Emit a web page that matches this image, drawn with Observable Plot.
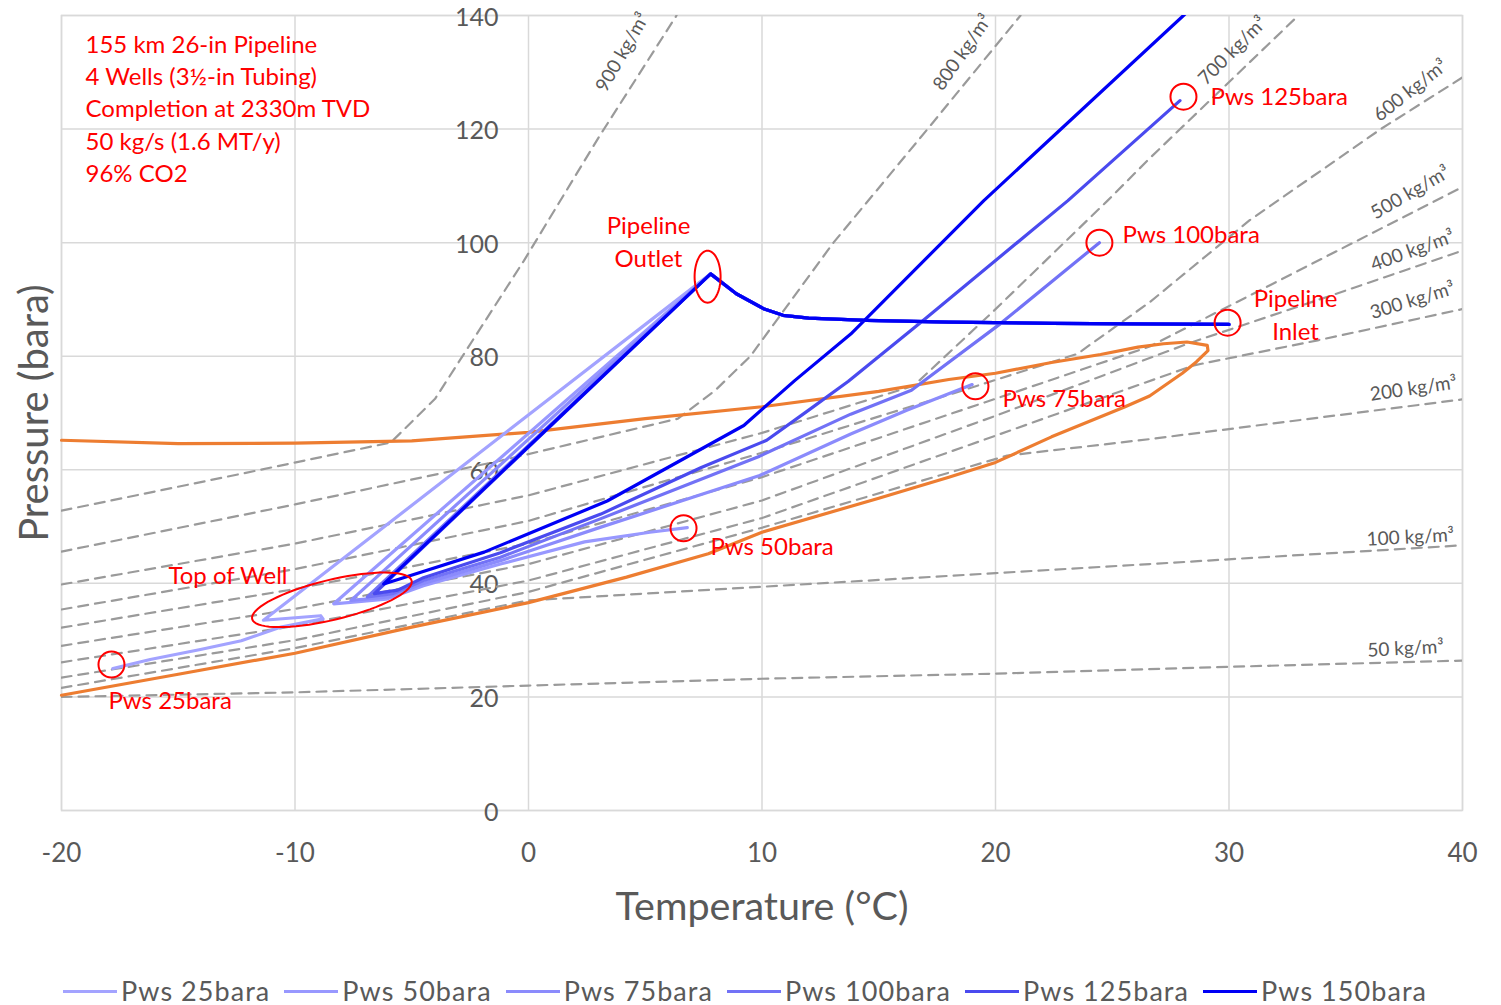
<!DOCTYPE html>
<html>
<head>
<meta charset="utf-8">
<script src="https://cdn.jsdelivr.net/npm/d3@7"></script>
<script src="https://cdn.jsdelivr.net/npm/@observablehq/plot@0.6"></script>
<style>
  body { margin: 0; background: #fff; font-family: Lato, sans-serif; }
  #chart svg { display: block; }
  #legend { display: flex; align-items: center; margin-left: 63px; margin-top: 26px; height: 30px; }
  .item { display: flex; align-items: center; margin-right: 14px; }
  .sw { width: 54px; height: 3px; margin-right: 4px; }
  .lt { font-size: 27px; letter-spacing: 1.05px; color: #595959; line-height: 30px; }
</style>
</head>
<body>
<div id="chart"></div>
<div id="legend"></div>
<script>
// ---------- data ----------
const xTicks = [-20, -10, 0, 10, 20, 30, 40];
const yTicks = [0, 20, 40, 60, 80, 100, 120, 140];

const seriesNames = ["Pws 25bara", "Pws 50bara", "Pws 75bara", "Pws 100bara", "Pws 125bara", "Pws 150bara"];
const seriesColors = ["#a3a3ff", "#9898ff", "#8b8bfc", "#7272f6", "#4a4aef", "#0000f5"];

// pipeline: inlet -> outlet  [T (°C), P (bara)]
const pipeline = [[30.0,85.6],[26,85.7],[22.4,85.8],[18,86.0],[14.5,86.3],[12,86.7],[10.9,87.2],[10.1,88.3],[8.9,91.0],[7.8,94.5]];

// top of well -> bottom hole, per series
const well25  = [[-11.35,33.5],[-8.9,34.3],[-8.8,33.75],[-10.6,32.3],[-12.3,29.9],[-14.05,28.35],[-16.2,26.6],[-17.8,25.0]];
const well50  = [[-8.34,36.4],[-6.1,37.2],[-4.5,39.6],[-1.2,43.4],[2.4,47.3],[5.2,49.0],[6.8,49.8]];
const well75  = [[-7.6,37.0],[-6.0,37.6],[-4.5,40.0],[-1.2,44.0],[3.1,49.9],[9.9,59.0],[13.8,66.3],[16.2,70.5],[19.0,75.0]];
const well100 = [[-6.9,37.6],[-5.8,38.2],[-4.5,40.5],[-1.2,44.6],[3.1,51.4],[9.9,62.4],[13.8,69.8],[16.4,74.0],[20.2,85.7],[24.45,100]];
const well125 = [[-6.6,38.2],[-5.6,38.8],[-4.5,41.0],[-1.2,45.4],[3.1,52.2],[7.4,60.4],[10.2,65.2],[12.0,70.5],[13.7,75.6],[16.9,86.3],[23.1,107.4],[27.9,125]];
const well150 = [[-6.2,39.9],[-5.05,41.4],[-1.9,45.5],[3.37,54.5],[9.22,67.8],[11.4,75.7],[13.8,83.9],[19.5,107.4],[28.05,140],[30.7,150]];

// phase envelope (bubble side then dew side)
const envelope = [[-20,65.2],[-15,64.6],[-10,64.7],[-5,65.1],[0,66.6],[5,69.0],[10,71.1],[15,73.8],[18,75.9],[20,77.0],[22.4,78.9],[24.5,80.3],[26.1,81.6],[27.2,82.2],[28.2,82.5],[29.07,81.9],[29.1,81.0],
  [28.6,79.0],[28.0,77.0],[26.6,73.0],[25.5,71.0],[22.4,65.8],[20,61.3],[18,58.7],[15,55.0],[10,49.0],[7.7,45.2],[4.2,41.1],[0,36.6],[-5,32.3],[-10,27.7],[-15,24.0],[-20,20.3]];

// isochores (density lines)
const isoNames = ["900 kg/m³","800 kg/m³","700 kg/m³","600 kg/m³","500 kg/m³","400 kg/m³","300 kg/m³","200 kg/m³","100 kg/m³","50 kg/m³"];
const iso900 = [[-20,52.8],[-12.3,59.3],[-5.9,64.8],[-4.0,72.5],[-0.2,96.8],[3.0,118.5],[6.34,140]];
const iso800 = [[-20,45.6],[-10,53.9],[-1.2,61.6],[6.4,69.0],[8.0,74.0],[9.5,80],[13.06,100],[17.09,120],[21.07,140]];
const iso700 = [[-20,39.8],[-10,47.0],[0,55.5],[10,66.5],[16.5,74.8],[19.93,88.0],[24.8,107.4],[26.64,115],[32.97,140]];
const iso600 = [[-20,35.4],[-10,42.5],[0,51.0],[10,63.0],[18.07,73.3],[23.5,80.4],[26.6,89.5],[30.9,104],[36.5,120],[40,129.1]];
const iso500 = [[-20,32.2],[-10,39.0],[0,47.0],[10,58.7],[20,72.5],[26.6,81.7],[40,109.8]];
const iso400 = [[-20,29.0],[-10,35.5],[0,43.4],[10,54.6],[20,69.5],[28.3,82.3],[34.6,91.0],[40,98.6]];
const iso300 = [[-20,26.1],[-10,32.5],[0,40.5],[10,51.5],[20,66.0],[28.5,78.4],[33.8,82.8],[40,88.3]];
const iso200 = [[-20,23.4],[-10,30.0],[0,38.5],[10,49.8],[20.5,62.5],[26.6,65.4],[40,72.4]];
const iso100 = [[-20,21.6],[-10,28.6],[0,37.0],[10,39.4],[20,41.8],[26.6,43.4],[40,46.7]];
const iso50  = [[-20,20.0],[-10,20.8],[0,22.0],[10,23.2],[20,24.1],[30,25.3],[40,26.4]];
const isoLines = [iso900, iso800, iso700, iso600, iso500, iso400, iso300, iso200, iso100, iso50];
const isoLabelT = [4.03, 18.59, 30.15, 37.77, 37.77, 37.86, 37.86, 37.9, 37.77, 37.56];
const isoLabelP = [133.5, 133.5, 133.8, 126.8, 108.8, 98.6, 89.8, 74.3, 48.1, 28.5];
const isoLabelAngle = [-60, -55, -45, -38, -30, -20, -17, -8, -3, -3];

// annotations
const notes = ["155 km 26-in Pipeline", "4 Wells (3½-in Tubing)", "Completion at 2330m TVD", "50 kg/s (1.6 MT/y)", "96% CO2"];
const markerNames = ["Pws 125bara", "Pws 100bara", "Pws 75bara", "Pws 50bara", "Pws 25bara", "Pipeline Inlet"];
const markerT = [28.05, 24.45, 19.14, 6.64, -17.86, 29.94];
const markerP = [125.7, 100.0, 74.7, 49.7, 25.7, 85.9];
const labelText = ["Pws 125bara", "Pws 100bara", "Pws 75bara", "Pws 50bara", "Pws 25bara", "Top of Well"];
const labelT = [29.21, 25.44, 20.3, 7.79, -17.99, -15.42];
const labelP = [125.55, 101.25, 72.4, 46.3, 19.2, 41.2];
const blockText = ["Pipeline\nOutlet", "Pipeline\nInlet"];
const blockT = [5.14, 32.85];
const blockP = [100.5, 87.6];
const outletCentre = [[7.67, 94.0]];
const topWellCentre = [[-8.42, 37.1]];

// ---------- tables ----------
const seriesRows = seriesNames.flatMap((s, i) =>
  [...pipeline, ...[well25, well50, well75, well100, well125, well150][i]].map(([T, P]) => ({series: s, T, P})));
const isoRows = isoNames.flatMap((n, i) => isoLines[i].map(([T, P]) => ({iso: n, T, P})));
const envRows = envelope.map(([T, P]) => ({T, P}));
const isoLabels = isoNames.map((n, i) => ({text: n, T: isoLabelT[i], P: isoLabelP[i], a: isoLabelAngle[i]}));
const markers = markerNames.map((n, i) => ({n, T: markerT[i], P: markerP[i]}));
const labels = labelText.map((t, i) => ({t, T: labelT[i], P: labelP[i]}));
const blocks = blockText.map((t, i) => ({t, T: blockT[i], P: blockP[i]}));

// ellipse symbols (pixel space)
function ellipseSymbol(a, b, angleDeg) {
  const phi = angleDeg * Math.PI / 180;
  return {
    draw(ctx) {
      const n = 72;
      for (let i = 0; i <= n; ++i) {
        const t = 2 * Math.PI * i / n;
        const x = a * Math.cos(t) * Math.cos(phi) - b * Math.sin(t) * Math.sin(phi);
        const y = a * Math.cos(t) * Math.sin(phi) + b * Math.sin(t) * Math.cos(phi);
        if (i === 0) ctx.moveTo(x, y); else ctx.lineTo(x, y);
      }
      ctx.closePath();
    }
  };
}

const grey = "#595959";
const red = "#ff0000";

const chart = Plot.plot({
  width: 1501,
  height: 950,
  marginTop: 15,
  marginBottom: 140,
  marginLeft: 61,
  marginRight: 39,
  style: {fontFamily: "Lato, sans-serif", background: "#fff"},
  x: {domain: [-20, 40]},
  y: {domain: [0, 140]},
  color: {domain: seriesNames, range: seriesColors},
  marks: [
    Plot.gridX(xTicks, {stroke: "#d9d9d9", strokeOpacity: 1, strokeWidth: 1.5}),
    Plot.gridY(yTicks, {stroke: "#d9d9d9", strokeOpacity: 1, strokeWidth: 1.5}),
    Plot.frame({stroke: "#d9d9d9", strokeWidth: 1.5}),
    Plot.axisX({ticks: xTicks, tickSize: 0, tickPadding: 33, tickFormat: d => String(d), fontSize: 26, fill: grey, label: null}),
    Plot.axisY({ticks: yTicks, tickSize: 0, tickPadding: 0, dx: 437, dy: 2, fontSize: 25, fill: grey, label: null}),
    Plot.text(["Temperature (°C)"], {frameAnchor: "bottom", dy: 97, lineAnchor: "middle", textAnchor: "middle", fontSize: 39.5, fill: grey}),
    Plot.text(["Pressure (bara)"], {frameAnchor: "left", dx: -26, rotate: -90, textAnchor: "middle", lineAnchor: "middle", fontSize: 40, fill: grey}),
    Plot.line(isoRows, {x: "T", y: "P", z: "iso", stroke: "#9a9a9a", strokeWidth: 2.2, strokeDasharray: "10,7", clip: true}),
    Plot.text(isoLabels, {x: "T", y: "P", text: "text", rotate: "a", fontSize: 19, fill: grey}),
    Plot.line(envRows, {x: "T", y: "P", stroke: "#ed7d31", strokeWidth: 3.2, curve: "linear"}),
    Plot.line(seriesRows, {x: "T", y: "P", z: "series", stroke: "series", strokeWidth: 3.2, clip: true}),
    Plot.dot(markers, {x: "T", y: "P", r: 13, stroke: red, strokeWidth: 2, fill: "none"}),
    Plot.dot(outletCentre, {x: d => d[0], y: d => d[1], symbol: ellipseSymbol(13, 26, 0), stroke: red, strokeWidth: 2, fill: "none"}),
    Plot.dot(topWellCentre, {x: d => d[0], y: d => d[1], symbol: ellipseSymbol(82, 20, -13.5), stroke: red, strokeWidth: 2, fill: "none"}),
    Plot.text(labels, {x: "T", y: "P", text: "t", textAnchor: "start", fontSize: 24, fill: red}),
    Plot.text(blocks, {x: "T", y: "P", text: "t", textAnchor: "middle", lineHeight: 1.38, fontSize: 24, fill: red}),
    Plot.text([notes.join("\n")], {frameAnchor: "top-left", dx: 24, dy: 14, lineAnchor: "top", textAnchor: "start", lineHeight: 1.35, fontSize: 24, fill: red})
  ]
});
document.getElementById("chart").appendChild(chart);

// legend
const legend = document.getElementById("legend");
seriesNames.forEach((s, i) => {
  const item = document.createElement("div");
  item.className = "item";
  const sw = document.createElement("div");
  sw.className = "sw";
  sw.style.background = seriesColors[i];
  const t = document.createElement("span");
  t.className = "lt";
  t.textContent = s;
  item.appendChild(sw);
  item.appendChild(t);
  legend.appendChild(item);
});
</script>
</body>
</html>
